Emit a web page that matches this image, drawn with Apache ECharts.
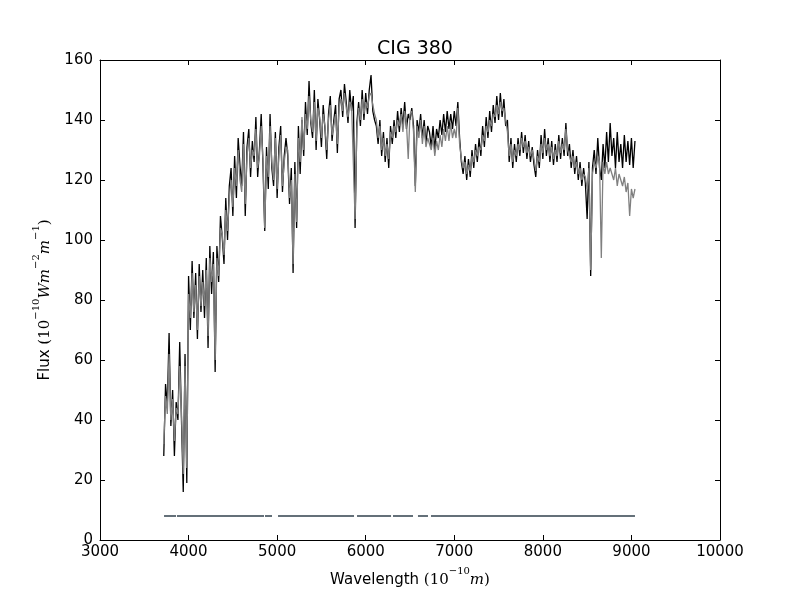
<!DOCTYPE html>
<html>
<head>
<meta charset="utf-8">
<script src="https://cdn.jsdelivr.net/npm/echarts@6/dist/echarts.min.js"></script>
<style>html,body{margin:0;padding:0;background:#fff}#c{width:800px;height:600px}</style>
</head>
<body>
<div id="c"></div>
<script>
// Wavelength grid (Angstrom)
const wavelength = [
3720,3740,3760,3780,3800,3820,3840,3860,3880,3900,
3920,3940,3960,3980,4000,4020,4040,4060,4080,4100,
4120,4140,4160,4180,4200,4220,4240,4260,4280,4300,
4320,4340,4360,4380,4400,4420,4440,4460,4480,4500,
4520,4540,4560,4580,4600,4620,4640,4660,4680,4700,
4720,4740,4760,4780,4800,4820,4840,4860,4880,4900,
4920,4940,4960,4980,5000,5020,5040,5060,5080,5100,
5120,5140,5160,5180,5200,5220,5240,5260,5280,5300,
5320,5340,5360,5380,5400,5420,5440,5460,5480,5500,
5520,5540,5560,5580,5600,5620,5640,5660,5680,5700,
5720,5740,5760,5780,5800,5820,5840,5860,5880,5900,
5920,5940,5960,5980,6000,6020,6040,6060,6080,6100,
6120,6140,6160,6180,6200,6220,6240,6260,6280,6300,
6320,6340,6360,6380,6400,6420,6440,6460,6480,6500,
6520,6540,6560,6580,6600,6620,6640,6660,6680,6700,
6720,6740,6760,6780,6800,6820,6840,6860,6880,6900,
6920,6940,6960,6980,7000,7020,7040,7060,7080,7100,
7120,7140,7160,7180,7200,7220,7240,7260,7280,7300,
7320,7340,7360,7380,7400,7420,7440,7460,7480,7500,
7520,7540,7560,7580,7600,7620,7640,7660,7680,7700,
7720,7740,7760,7780,7800,7820,7840,7860,7880,7900,
7920,7940,7960,7980,8000,8020,8040,8060,8080,8100,
8120,8140,8160,8180,8200,8220,8240,8260,8280,8300,
8320,8340,8360,8380,8400,8420,8440,8460,8480,8500,
8520,8540,8560,8580,8600,8620,8640,8660,8680,8700,
8720,8740,8760,8780,8800,8820,8840,8860,8880,8900,
8920,8940,8960,8980,9000,9020,9040
];
// Observed flux (black)
const fluxBlack = [
28,52,45,69,38,50,28,46,40,66,
40,16,62,19,88,70,93,74,89,67,
92,76,90,74,94,64,98,82,96,56,
98,86,108,101,92,114,100,118,124,108,
128,114,134,125,118,136,108,131,137,121,
133,126,141,121,130,142,125,103,131,117,
142,124,118,136,114,131,138,116,128,134,
128,112,124,89,126,104,138,122,140,128,
146,135,153,139,134,150,130,147,140,131,
145,137,127,142,148,133,140,145,129,147,
150,141,152,146,139,150,143,148,104,139,
146,138,150,140,149,142,150,155,143,140,
138,132,140,128,136,126,134,124,138,132,
140,134,143,136,144,138,146,137,142,140,
144,138,118,140,136,142,134,140,132,138,
136,131,138,130,137,134,140,135,142,136,
143,137,142,137,143,138,146,134,126,122,
128,120,127,121,130,124,132,126,134,128,
138,131,141,134,143,136,145,139,148,140,
149,141,147,138,140,126,134,124,132,126,
134,128,136,129,135,127,133,126,131,125,
121,130,124,135,127,137,128,134,126,133,
125,132,126,135,127,134,128,139,128,132,
124,130,122,128,120,126,118,124,119,107,
126,88,124,130,122,134,124,120,132,124,
136,126,139,128,134,124,136,126,132,124,
135,126,133,125,134,124,133
];
// Model / fitted flux (grey)
const fluxGrey = [
32,48,42,62,40,47,33,44,42,58,
42,22,58,24,82,74,89,76,85,70,
88,78,86,78,90,68,94,86,92,60,
94,88,104,102,95,110,103,114,120,111,
124,118,130,120,116,132,112,128,134,124,
130,128,137,124,128,138,127,104,128,121,
138,126,120,134,117,128,135,118,126,131,
130,114,120,92,122,106,134,126,141,130,
142,137,148,140,136,146,133,144,141,134,
142,138,130,140,145,135,138,142,132,144,
147,143,149,144,141,146,145,145,107,137,
144,140,147,142,146,144,148,149,145,142,
140,134,138,130,134,128,132,127,136,134,
138,136,140,138,142,136,143,139,127,142,
143,136,116,138,134,140,132,138,131,134,
132,130,134,128,133,130,135,131,137,133,
138,133,139,134,137,134,144,132,127,124,
126,122,125,123,128,126,130,128,131,130,
135,133,138,136,140,138,142,141,145,142,
146,143,144,140,136,128,132,126,130,128,
132,130,134,131,133,129,131,128,130,127,
123,128,126,132,129,134,130,132,128,131,
127,130,128,133,129,132,130,137,130,130,
126,128,124,126,122,124,120,122,121,117,
124,90,122,126,124,128,126,94,126,122,
126,122,124,122,120,124,118,122,120,118,
121,116,119,108,117,114,117
];
// Good-pixel mask segments, drawn at a constant level
const maskStart = [3723,3869,4863,5010,5902,6308,6590,6737];
const maskEnd   = [3858,4852,4942,5868,6286,6534,6703,9040];
const maskLevel = 8;

const xTicks = [3000,4000,5000,6000,7000,8000,9000,10000];
const yTicks = [0,20,40,60,80,100,120,140,160];

const blackData = wavelength.map((w,i)=>[w,fluxBlack[i]]);
const greyData = wavelength.map((w,i)=>[w,fluxGrey[i]]);
const maskData = [];
maskStart.forEach((s,i)=>{
  maskData.push([s,maskLevel]);
  maskData.push([maskEnd[i],maskLevel]);
  maskData.push([maskEnd[i],'-']);
});

const tickFont = {fontFamily:'DejaVu Sans', fontSize:15, color:'#000', formatter:(v)=>String(v)};
const chart = echarts.init(document.getElementById('c'), null, {renderer:'canvas'});
const mathRich = {
  n:{fontFamily:'DejaVu Sans', fontSize:15, color:'#000', verticalAlign:'bottom', lineHeight:22},
  m:{fontFamily:'DejaVu Serif', fontSize:15, color:'#000', verticalAlign:'bottom', lineHeight:22},
  i:{fontFamily:'DejaVu Serif', fontStyle:'italic', fontSize:15, color:'#000', verticalAlign:'bottom', lineHeight:22},
  s:{fontFamily:'DejaVu Serif', fontSize:10, color:'#000', verticalAlign:'top', lineHeight:22}
};
chart.setOption({
  animation:false,
  backgroundColor:'#fff',
  title:{text:'CIG 380', left:410, textAlign:'center', top:35,
    textStyle:{fontFamily:'DejaVu Sans', fontSize:19, fontWeight:'normal', color:'#000'}},
  grid:{left:100, right:80, top:60, bottom:60},
  xAxis:[{
    type:'value', min:xTicks[0], max:xTicks[xTicks.length-1], interval:1000,
    position:'bottom',
    axisLine:{show:true, onZero:false, lineStyle:{color:'#000', width:1}},
    axisTick:{show:true, inside:true, length:5, lineStyle:{color:'#000'}},
    axisLabel:Object.assign({margin:5}, tickFont),
    splitLine:{show:false},
    name:'{n|Wavelength }{m|(10}{s|−10}{i|m}{m|)}',
    nameLocation:'middle', nameGap:26,
    nameTextStyle:{rich:mathRich}
  },{
    type:'value', min:xTicks[0], max:xTicks[xTicks.length-1], interval:1000,
    position:'top',
    axisLine:{show:true, onZero:false, lineStyle:{color:'#000', width:1}},
    axisTick:{show:true, inside:true, length:5, lineStyle:{color:'#000'}},
    axisLabel:{show:false}, splitLine:{show:false}
  }],
  yAxis:[{
    type:'value', min:yTicks[0], max:yTicks[yTicks.length-1], interval:20,
    position:'left',
    axisLine:{show:true, onZero:false, lineStyle:{color:'#000', width:1}},
    axisTick:{show:true, inside:true, length:5, lineStyle:{color:'#000'}},
    axisLabel:Object.assign({margin:7}, tickFont),
    splitLine:{show:false},
    name:'{n|Flux }{m|(10}{s|−10}{i|Wm}{s|−2}{i|m}{s|−1}{m|)}',
    nameLocation:'middle', nameGap:47, nameRotate:90,
    nameTextStyle:{rich:mathRich}
  },{
    type:'value', min:yTicks[0], max:yTicks[yTicks.length-1], interval:20,
    position:'right',
    axisLine:{show:true, onZero:false, lineStyle:{color:'#000', width:1}},
    axisTick:{show:true, inside:true, length:5, lineStyle:{color:'#000'}},
    axisLabel:{show:false}, splitLine:{show:false}
  }],
  series:[
    {type:'line', data:blackData, showSymbol:false, symbol:'none', xAxisIndex:0, yAxisIndex:0,
     lineStyle:{color:'#000', width:1.3}, itemStyle:{color:'#000'}, z:2},
    {type:'line', data:greyData, showSymbol:false, symbol:'none', xAxisIndex:0, yAxisIndex:0,
     lineStyle:{color:'#808080', width:1.3}, itemStyle:{color:'#808080'}, z:3},
    {type:'line', data:maskData, showSymbol:false, symbol:'none', connectNulls:false,
     lineStyle:{color:'#647079', width:2}, itemStyle:{color:'#647079'}, z:4}
  ]
});
</script>
</body>
</html>
